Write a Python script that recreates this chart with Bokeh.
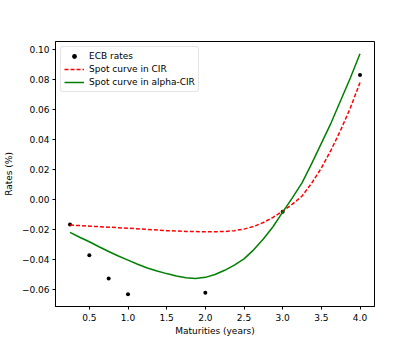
from bokeh.plotting import figure
from bokeh.models import Range1d, FixedTicker, CustomJSTickFormatter, Legend, LegendItem
from bokeh.embed import file_html
from bokeh.resources import INLINE

# ECB observed rates
ecb_maturities = [0.25, 0.5, 0.75, 1.0, 2.0, 3.0, 4.0]
ecb_rates = [-0.0165, -0.037, -0.0525, -0.063, -0.062, -0.008, 0.083]

# Spot curve in CIR
cir_maturities = [0.25, 0.5, 0.75, 1.0, 1.25, 1.5, 1.75, 2.0, 2.125, 2.25, 2.375, 2.5,
                  2.625, 2.75, 2.875, 3.0, 3.125, 3.25, 3.375, 3.5, 3.625, 3.75, 3.875, 4.0]
cir_rates = [-0.0169, -0.0176, -0.0183, -0.0190, -0.0198, -0.0206, -0.0211, -0.0214,
             -0.0213, -0.0212, -0.0206, -0.0196, -0.0178, -0.0152, -0.0118, -0.0077,
             -0.0030, 0.0024, 0.0110, 0.0210, 0.0330, 0.0463, 0.0610, 0.0780]

# Spot curve in alpha-CIR
acir_maturities = [0.25, 0.375, 0.5, 0.625, 0.75, 0.875, 1.0, 1.125, 1.25, 1.375, 1.5, 1.625,
                   1.75, 1.875, 2.0, 2.125, 2.25, 2.375, 2.5, 2.625, 2.75, 2.875, 3.0, 3.125,
                   3.25, 3.375, 3.5, 3.625, 3.75, 3.875, 4.0]
acir_rates = [-0.0218, -0.0250, -0.0280, -0.0313, -0.0345, -0.0375, -0.0402, -0.0430, -0.0455,
              -0.0475, -0.0492, -0.0508, -0.0519, -0.0524, -0.0517, -0.0498, -0.0470, -0.0436,
              -0.0394, -0.0334, -0.0262, -0.0180, -0.0083, 0.0012, 0.0112, 0.0240, 0.0375,
              0.0510, 0.0660, 0.0810, 0.0972]

x_ticks = [0.5, 1.0, 1.5, 2.0, 2.5, 3.0, 3.5, 4.0]
y_ticks = [-0.06, -0.04, -0.02, 0.0, 0.02, 0.04, 0.06, 0.08, 0.10]

FONT = "DejaVu Sans"

p = figure(width=399, height=338, output_backend="svg", toolbar_location=None,
           x_range=Range1d(0.0625, 4.1875), y_range=Range1d(-0.0711, 0.1053),
           min_border_left=44, min_border_right=25, min_border_top=41, min_border_bottom=31)
p.background_fill_color = "white"
p.border_fill_color = "white"
p.outline_line_color = "black"
p.outline_line_width = 1
p.xgrid.visible = False
p.ygrid.visible = False

for ax in (p.xaxis[0], p.yaxis[0]):
    ax.major_tick_in = 0
    ax.major_tick_out = 3
    ax.minor_tick_line_color = None
    ax.major_label_text_font = FONT
    ax.major_label_text_font_size = "9px"
    ax.major_label_text_color = "black"
    ax.axis_label_text_font = FONT
    ax.axis_label_text_font_size = "9px"
    ax.axis_label_text_font_style = "normal"
    ax.axis_label_text_color = "black"
    ax.axis_line_color = "black"

p.xaxis.major_label_standoff = 4
p.xaxis.axis_label_standoff = 2
p.yaxis.major_label_standoff = 3
p.yaxis.axis_label_standoff = 5

p.xaxis.ticker = FixedTicker(ticks=x_ticks)
p.yaxis.ticker = FixedTicker(ticks=y_ticks)
p.xaxis.formatter = CustomJSTickFormatter(code="return tick.toFixed(1).replace('-', '\u2212');")
p.yaxis.formatter = CustomJSTickFormatter(code="return tick.toFixed(2).replace('-', '\u2212');")
p.xaxis.axis_label = "Maturities (years)"
p.yaxis.axis_label = "Rates (%)"

r_ecb = p.scatter(ecb_maturities, ecb_rates, size=4, color="black", line_width=0)
r_cir = p.line(cir_maturities, cir_rates, line_color="#ff0000", line_width=1.5, line_dash="4 2")
r_acir = p.line(acir_maturities, acir_rates, line_color="#008000", line_width=1.5)

legend = Legend(items=[
    LegendItem(label="ECB rates", renderers=[r_ecb]),
    LegendItem(label="Spot curve in CIR", renderers=[r_cir]),
    LegendItem(label="Spot curve in alpha-CIR", renderers=[r_acir]),
], location="top_left")
legend.label_text_font = FONT
legend.label_text_font_size = "9px"
legend.label_text_color = "black"
legend.label_height = 12
legend.glyph_height = 12
legend.glyph_width = 20
legend.spacing = 1
legend.padding = 3
legend.margin = 5
legend.border_line_color = "#cccccc"
legend.border_radius = 3
legend.background_fill_alpha = 0.8
p.add_layout(legend)

open("out.html", "w").write(file_html(p, INLINE))
